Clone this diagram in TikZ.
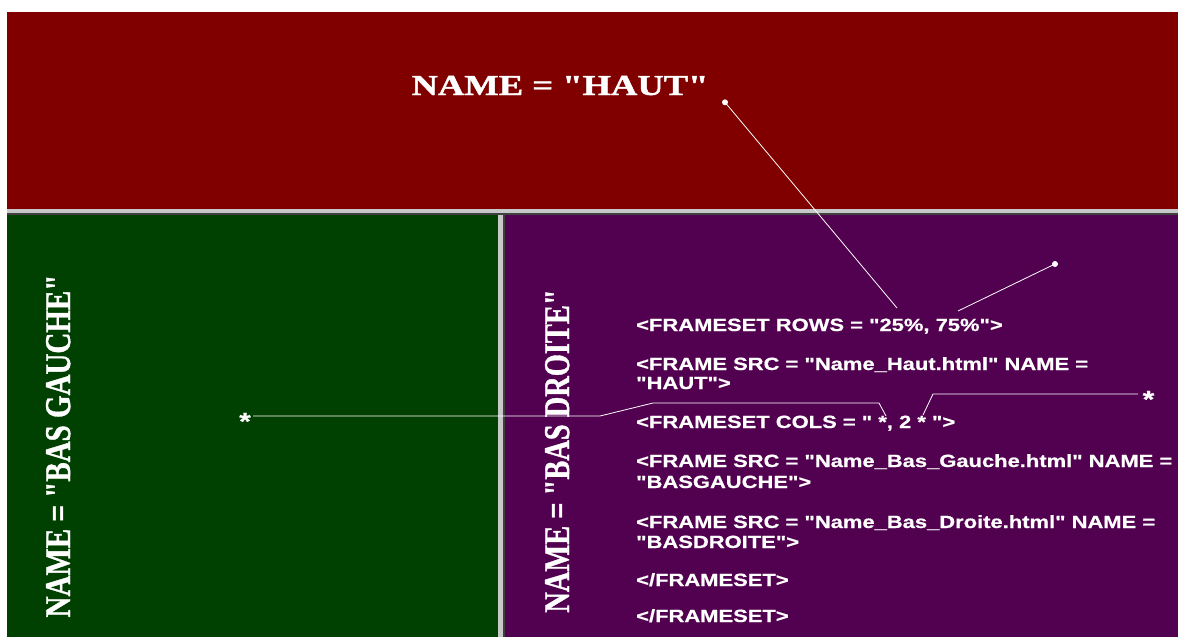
\documentclass[tikz,border=0pt]{standalone}
\usepackage{fontspec}
\setmainfont{Liberation Serif}[Ligatures=TeXOff]
\setsansfont{Liberation Sans}[Ligatures=TeXOff]
\newfontfamily\heavyserif{Liberation Serif}[Ligatures=TeXOff, BoldFeatures={FakeBold=1.2}]
\newfontfamily\heavysans{Liberation Sans}[Ligatures=TeXOff, BoldFeatures={FakeBold=0.6}]
\usepackage{graphicx}
\definecolor{topred}{HTML}{800000}
\definecolor{leftgreen}{HTML}{004000}
\definecolor{rightpurple}{HTML}{520050}
\definecolor{lightgrey}{HTML}{C8C8C8}
\definecolor{darkline}{HTML}{404040}
\begin{document}
\begin{tikzpicture}[x=1pt,y=-1pt,
  codetext/.style={text=white, anchor=base west, inner sep=0pt,
    font=\heavysans\bfseries\fontsize{17.7}{20}\selectfont},
  headtext/.style={text=white, anchor=base, inner sep=0pt,
    font=\heavyserif\bfseries\fontsize{29}{30}\selectfont},
  startext/.style={text=white, anchor=base, inner sep=0pt,
    font=\heavysans\bfseries\fontsize{24}{26}\selectfont},
  conn/.style={draw=white, line width=0.8pt},
  dotnode/.style={circle, fill=white, inner sep=0pt, minimum size=6pt}]
\useasboundingbox (0,0) rectangle (1178,637);
\fill[white] (0,0) rectangle (1178,637);
% panels
\fill[topred] (7,12) rectangle (1178,209);
\fill[lightgrey] (7,209) rectangle (1178,213.3);
\fill[darkline] (7,213.3) rectangle (1178,214.5);
\fill[leftgreen] (7,214.5) rectangle (498,637);
\fill[lightgrey] (498,214.5) rectangle (503.3,637);
\fill[darkline] (503.3,214.5) rectangle (505,637);
\fill[rightpurple] (505,214.5) rectangle (1178,637);
% frame names
\node[headtext] (haut) at (560,95) {\scalebox{1.26}[1]{NAME = "HAUT"}};
\node[headtext, rotate=90] (basg) at (70,446) {\scalebox{1.0}[1.25]{NAME = "BAS GAUCHE"}};
\node[headtext, rotate=90] (basd) at (569,451) {\scalebox{0.98}[1.25]{NAME = "BAS DROITE"}};
% code
\node[codetext] (l1) at (636,331) {\scalebox{1.24}[1]{<FRAMESET ROWS = "25\%, 75\%">}};
\node[codetext] (l2) at (636,370) {\scalebox{1.24}[1]{<FRAME SRC = "Name\_Haut.html" NAME =}};
\node[codetext] (l2b) at (636,389) {\scalebox{1.24}[1]{"HAUT">}};
\node[codetext] (l3) at (636,428) {\scalebox{1.24}[1]{<FRAMESET COLS = " *, 2 * ">}};
\node[codetext] (l4) at (636,467) {\scalebox{1.24}[1]{<FRAME SRC = "Name\_Bas\_Gauche.html" NAME =}};
\node[codetext] (l4b) at (636,488) {\scalebox{1.24}[1]{"BASGAUCHE">}};
\node[codetext] (l5) at (636,528) {\scalebox{1.24}[1]{<FRAME SRC = "Name\_Bas\_Droite.html" NAME =}};
\node[codetext] (l5b) at (636,548) {\scalebox{1.24}[1]{"BASDROITE">}};
\node[codetext] (l6) at (636,586) {\scalebox{1.24}[1]{</FRAMESET>}};
\node[codetext] (l7) at (636,622) {\scalebox{1.24}[1]{</FRAMESET>}};
% stars
\node[startext] (starL) at (245,429.5) {\scalebox{1.24}[1]{*}};
\node[startext] (starR) at (1148.5,407.5) {\scalebox{1.24}[1]{*}};
% dots
\node[dotnode] (dotH) at (725,102.3) {};
\node[dotnode] (dotR) at (1055,264) {};
% connector ends
\coordinate (starLedge) at (253,416);
\coordinate (starRedge) at (1138,394);
\coordinate (rowsA) at (897,308);
\coordinate (rowsB) at (958,311);
\coordinate (colsA) at (886,416);
\coordinate (colsB) at (923,415);
% connectors
\draw[conn] (dotH.center) -- (rowsA);
\draw[conn] (rowsB) -- (dotR.center);
\draw[conn] (starLedge) -- (600,416) -- (653,403) -- (879,403) -- (colsA);
\draw[conn] (colsB) -- (933,394) -- (starRedge);
\end{tikzpicture}
\end{document}
